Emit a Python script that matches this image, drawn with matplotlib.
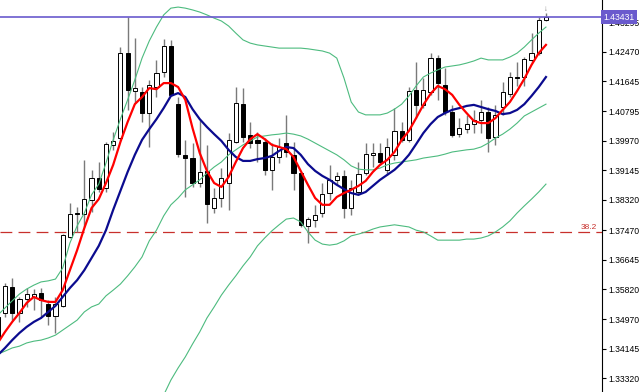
import numpy as np
import matplotlib
matplotlib.use("Agg")
import matplotlib.pyplot as plt

# Velas (indice -1 es la vela cortada en el borde izquierdo)
idx = np.arange(-1, 76)
opens = [1.3504, 1.3515, 1.3588, 1.3515, 1.3554, 1.3560, 1.3571, 1.3540, 1.3507, 1.3535, 1.3728,
         1.3795, 1.3792, 1.3832, 1.3893, 1.3865, 1.3986, 1.4005, 1.4243, 1.4137, 1.4134, 1.4075,
         1.4148, 1.4190, 1.4263, 1.4100, 1.3958, 1.3949, 1.3879, 1.3913, 1.3809, 1.3837, 1.3879,
         1.3994, 1.4100, 1.4014, 1.4000, 1.3994, 1.3916, 1.3952, 1.3991, 1.3958, 1.3907, 1.3759,
         1.3776, 1.3795, 1.3851, 1.3888, 1.3899, 1.3809, 1.3854, 1.3907, 1.3958, 1.3963, 1.3916,
         1.3958, 1.4025, 1.4000, 1.4140, 1.4098, 1.4134, 1.4229, 1.4154, 1.4078, 1.4016, 1.4030,
         1.4044, 1.4056, 1.4078, 1.4008, 1.4092, 1.4129, 1.4176, 1.4176, 1.4224, 1.4243, 1.4336]
highs = [1.3512, 1.3599, 1.3613, 1.3560, 1.3585, 1.3582, 1.3585, 1.3551, 1.3560, 1.3736, 1.3823,
         1.3812, 1.3944, 1.3916, 1.3938, 1.3994, 1.4022, 1.4260, 1.4344, 1.4285, 1.4148, 1.4168,
         1.4224, 1.4283, 1.4280, 1.4120, 1.4000, 1.3991, 1.4056, 1.3986, 1.3865, 1.3921, 1.4019,
         1.4148, 1.4145, 1.4050, 1.4022, 1.4005, 1.3991, 1.4005, 1.4070, 1.3994, 1.3910, 1.3784,
         1.3818, 1.3879, 1.3930, 1.3910, 1.3916, 1.3888, 1.3938, 1.3991, 1.3991, 1.3991, 1.4005,
         1.4089, 1.4050, 1.4148, 1.4218, 1.4173, 1.4243, 1.4238, 1.4201, 1.4098, 1.4061, 1.4070,
         1.4084, 1.4112, 1.4092, 1.4098, 1.4162, 1.4190, 1.4218, 1.4232, 1.4299, 1.4344, 1.4355]
lows = [1.3434, 1.3504, 1.3495, 1.3490, 1.3532, 1.3523, 1.3504, 1.3481, 1.3459, 1.3532, 1.3725,
        1.3742, 1.3756, 1.3798, 1.3854, 1.3854, 1.3972, 1.4000, 1.4084, 1.4103, 1.4050, 1.3980,
        1.4120, 1.4176, 1.4123, 1.3952, 1.3840, 1.3868, 1.3868, 1.3767, 1.3795, 1.3812, 1.3804,
        1.3991, 1.3994, 1.3977, 1.3938, 1.3902, 1.3860, 1.3935, 1.3952, 1.3860, 1.3756, 1.3711,
        1.3756, 1.3784, 1.3832, 1.3874, 1.3781, 1.3790, 1.3846, 1.3902, 1.3924, 1.3930, 1.3902,
        1.3944, 1.3994, 1.3994, 1.4061, 1.4089, 1.4126, 1.4112, 1.4070, 1.4008, 1.4008, 1.4019,
        1.4019, 1.4019, 1.3966, 1.3986, 1.4070, 1.4120, 1.4151, 1.4151, 1.4218, 1.4238, 1.4333]
closes = [1.3445, 1.3591, 1.3515, 1.3554, 1.3568, 1.3568, 1.3551, 1.3507, 1.3540, 1.3733, 1.3792,
          1.3792, 1.3834, 1.3893, 1.3862, 1.3988, 1.3997, 1.4243, 1.4140, 1.4145, 1.4075, 1.4154,
          1.4187, 1.4263, 1.4126, 1.3960, 1.3949, 1.3879, 1.3910, 1.3820, 1.3837, 1.3893, 1.4000,
          1.4103, 1.4008, 1.3991, 1.3991, 1.3916, 1.3952, 1.3980, 1.3966, 1.3907, 1.3762, 1.3778,
          1.3790, 1.3848, 1.3888, 1.3899, 1.3809, 1.3865, 1.3904, 1.3960, 1.3963, 1.3938, 1.3980,
          1.4025, 1.4000, 1.4137, 1.4098, 1.4140, 1.4229, 1.4159, 1.4078, 1.4014, 1.4033, 1.4044,
          1.4056, 1.4078, 1.4005, 1.4070, 1.4134, 1.4176, 1.4173, 1.4227, 1.4243, 1.4336, 1.4343]

# Media rapida (roja) y lenta (azul), un valor por vela
ma_fast = [1.3431, 1.3462, 1.3490, 1.3515, 1.3543, 1.3560, 1.3551, 1.3546, 1.3546, 1.3579, 1.3635,
           1.3691, 1.3753, 1.3809, 1.3834, 1.3879, 1.3930, 1.3994, 1.4050, 1.4100, 1.4120, 1.4145,
           1.4142, 1.4159, 1.4159, 1.4148, 1.4112, 1.4033, 1.3963, 1.3913, 1.3879, 1.3868, 1.3896,
           1.3938, 1.3977, 1.4002, 1.4016, 1.4002, 1.3986, 1.3980, 1.3974, 1.3952, 1.3913, 1.3874,
           1.3837, 1.3818, 1.3818, 1.3840, 1.3851, 1.3860, 1.3871, 1.3885, 1.3910, 1.3930, 1.3944,
           1.3966, 1.4000, 1.4025, 1.4061, 1.4098, 1.4129, 1.4151, 1.4142, 1.4126, 1.4098, 1.4075,
           1.4053, 1.4047, 1.4047, 1.4061, 1.4084, 1.4106, 1.4137, 1.4171, 1.4210, 1.4243, 1.4266]
ma_slow = [1.3397, 1.3417, 1.3439, 1.3459, 1.3476, 1.3490, 1.3501, 1.3518, 1.3535, 1.3560, 1.3585,
           1.3607, 1.3635, 1.3669, 1.3703, 1.3747, 1.3804, 1.3857, 1.3910, 1.3958, 1.4000, 1.4030,
           1.4058, 1.4089, 1.4123, 1.4131, 1.4120, 1.4086, 1.4058, 1.4036, 1.4016, 1.3997, 1.3972,
           1.3952, 1.3941, 1.3941, 1.3946, 1.3949, 1.3955, 1.3969, 1.3980, 1.3977, 1.3958, 1.3932,
           1.3913, 1.3899, 1.3888, 1.3874, 1.3862, 1.3851, 1.3846, 1.3854, 1.3871, 1.3888, 1.3902,
           1.3916, 1.3935, 1.3958, 1.3988, 1.4019, 1.4044, 1.4064, 1.4075, 1.4084, 1.4089, 1.4095,
           1.4098, 1.4092, 1.4086, 1.4081, 1.4072, 1.4075, 1.4084, 1.4100, 1.4123, 1.4148, 1.4176]

# Bandas de Bollinger
bb_upper = [1.3509, 1.3529, 1.3549, 1.3568, 1.3582, 1.3593, 1.3602, 1.3605, 1.3610, 1.3641, 1.3711,
            1.3759, 1.3795, 1.3846, 1.3876, 1.3935, 1.4000, 1.4058, 1.4112, 1.4168, 1.4229, 1.4277,
            1.4316, 1.4350, 1.4369, 1.4372, 1.4369, 1.4364, 1.4358, 1.4350, 1.4341, 1.4333, 1.4319,
            1.4299, 1.4280, 1.4271, 1.4266, 1.4263, 1.4260, 1.4257, 1.4257, 1.4257, 1.4257, 1.4255,
            1.4252, 1.4249, 1.4243, 1.4229, 1.4173, 1.4106, 1.4078, 1.4070, 1.4070, 1.4070, 1.4075,
            1.4086, 1.4100, 1.4123, 1.4151, 1.4176, 1.4187, 1.4196, 1.4204, 1.4207, 1.4210, 1.4215,
            1.4221, 1.4229, 1.4224, 1.4224, 1.4224, 1.4232, 1.4243, 1.4260, 1.4280, 1.4299, 1.4316]
bb_middle = [1.3400, 1.3408, 1.3417, 1.3422, 1.3431, 1.3436, 1.3439, 1.3445, 1.3453, 1.3467, 1.3481,
             1.3495, 1.3518, 1.3532, 1.3540, 1.3563, 1.3579, 1.3596, 1.3619, 1.3644, 1.3672, 1.3717,
             1.3747, 1.3787, 1.3818, 1.3837, 1.3860, 1.3874, 1.3888, 1.3907, 1.3924, 1.3938, 1.3958,
             1.3972, 1.3986, 1.3997, 1.4008, 1.4011, 1.4014, 1.4016, 1.4019, 1.4016, 1.4011, 1.4002,
             1.3991, 1.3980, 1.3969, 1.3958, 1.3944, 1.3927, 1.3918, 1.3916, 1.3916, 1.3921, 1.3930,
             1.3935, 1.3938, 1.3941, 1.3944, 1.3949, 1.3952, 1.3955, 1.3960, 1.3966, 1.3969, 1.3972,
             1.3974, 1.3980, 1.3991, 1.4005, 1.4016, 1.4030, 1.4047, 1.4067, 1.4078, 1.4089, 1.4100]
lower_idx = np.arange(22, 76)
bb_lower = [1.3285, 1.3327, 1.3361, 1.3392, 1.3428, 1.3462, 1.3501, 1.3532, 1.3565, 1.3593, 1.3619,
            1.3647, 1.3672, 1.3703, 1.3725, 1.3745, 1.3762, 1.3778, 1.3781, 1.3770, 1.3742, 1.3719,
            1.3708, 1.3705, 1.3708, 1.3717, 1.3731, 1.3736, 1.3742, 1.3750, 1.3756, 1.3759, 1.3762,
            1.3759, 1.3756, 1.3747, 1.3742, 1.3731, 1.3719, 1.3719, 1.3719, 1.3719, 1.3722, 1.3722,
            1.3725, 1.3731, 1.3742, 1.3756, 1.3773, 1.3795, 1.3815, 1.3834, 1.3854, 1.3876]

bid = 1.43431
fibo_382 = 1.37427
price_ticks = [1.43295, 1.42470, 1.41645, 1.40795, 1.39970, 1.39145, 1.38320,
               1.37470, 1.36645, 1.35820, 1.34970, 1.34145, 1.33320]

plt.rcParams['font.family'] = ['Liberation Sans', 'DejaVu Sans']
plt.rcParams['lines.scale_dashes'] = False

fig = plt.figure(figsize=(6.4, 3.92), dpi=100)
ax = fig.add_axes([0, 0, 602 / 640, 1])

# Velas: mechas grises y cuerpos blancos/negros
ax.vlines(idx, lows, highs, color='#7a7a7a', linewidth=1.0, zorder=2)
o = np.array(opens)
c = np.array(closes)
bottoms = np.minimum(o, c)
heights = np.maximum(np.abs(c - o), 0.00006)
colors = ['white' if cc >= oo else 'black' for oo, cc in zip(o, c)]
ax.bar(idx, heights, bottom=bottoms, width=0.58, color=colors, edgecolor='black',
       linewidth=0.7, zorder=3)

# Bandas y medias
band_color = '#4dbb7f'
ax.plot(idx, bb_upper, color=band_color, linewidth=0.8, zorder=4)
ax.plot(idx, bb_middle, color=band_color, linewidth=0.8, zorder=4)
ax.plot(lower_idx, bb_lower, color=band_color, linewidth=0.8, zorder=4)
ax.plot(idx, ma_slow, color='#0b0b8f', linewidth=1.6, zorder=5)
ax.plot(idx, ma_fast, color='#ff0000', linewidth=1.6, zorder=6)

# Linea de precio bid y nivel de Fibonacci
ax.axhline(bid, color='#6a5acd', linewidth=1.2, zorder=7)
ax.axhline(fibo_382, color='#c8302c', linewidth=0.9, dashes=(8.5, 4.5), zorder=1)
ax.text(82.0, fibo_382 + 0.0003, '38.2', color='#c8302c', fontsize=6,
        ha='right', va='bottom', zorder=8)

# flecha de la ultima vela
ax.text(75, highs[-1] + 0.0001, '\u2193', color='#808080', fontsize=5.5,
        ha='center', va='bottom', zorder=8)

# Ejes al estilo MetaTrader
ax.set_xlim(-0.693, 82.77)
ax.set_ylim(1.32936, 1.43918)
ax.set_xticks([])
ax.yaxis.tick_right()
ax.set_yticks(price_ticks)
ax.set_yticklabels(['%.5f' % p for p in price_ticks])
ax.tick_params(axis='y', direction='out', length=3, width=0.8, pad=1.5,
               labelsize=6.2, colors='black')
for side in ['left', 'top', 'bottom']:
    ax.spines[side].set_visible(False)
ax.spines['right'].set_linewidth(0.8)

ax.text(1.002, bid, '%.5f' % bid, transform=ax.get_yaxis_transform(), color='white',
        fontsize=6.2, ha='left', va='center', zorder=10, clip_on=False,
        bbox=dict(facecolor='#6a5acd', edgecolor='none', boxstyle='square,pad=0.3'))

fig.savefig('out.png', dpi=100)
